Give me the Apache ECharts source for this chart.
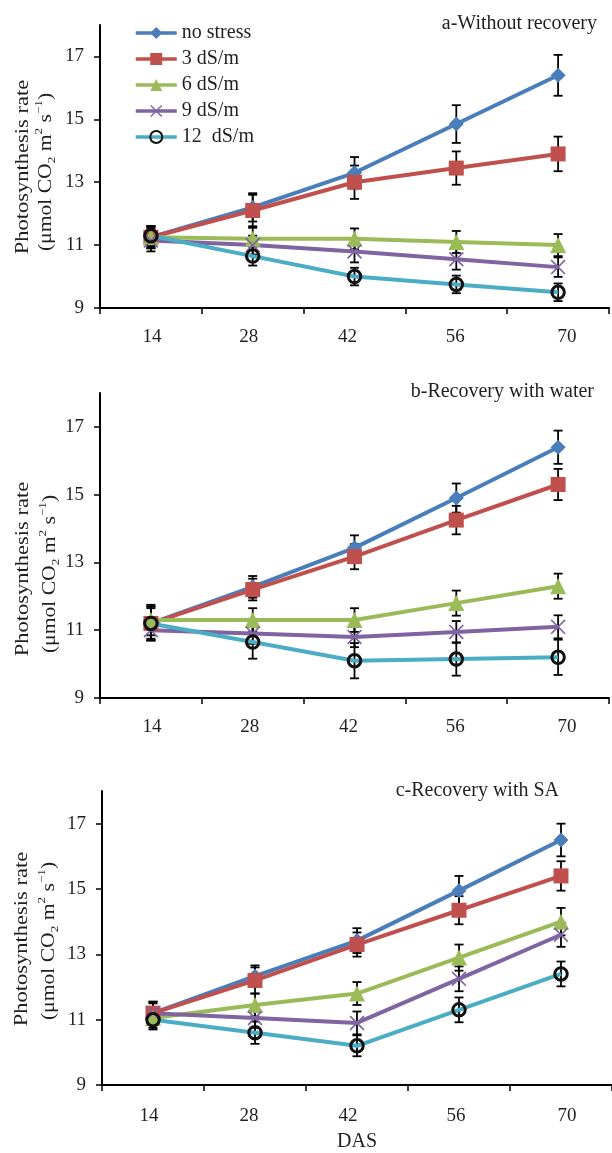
<!DOCTYPE html>
<html><head><meta charset="utf-8">
<script src="https://cdn.jsdelivr.net/npm/echarts@6/dist/echarts.min.js"></script>
<style>html,body{margin:0;padding:0;background:#fff}#c{width:612px;height:1153px}</style>
</head><body><div id="c"></div>
<script>
// ---------- data ----------
const days = ['14', '28', '42', '56', '70'];
const seriesNames = ['no stress', '3 dS/m', '6 dS/m', '9 dS/m', '12  dS/m'];
const panelTitles = ['a-Without recovery', 'b-Recovery with water', 'c-Recovery with SA'];
const yTickValues = [9, 11, 13, 15, 17];

// a - Without recovery
const a_noStress = [11.25, 12.2, 13.3, 14.85, 16.4];
const a_noStressErr = [0.35, 0.45, 0.5, 0.6, 0.65];
const a_3 = [11.25, 12.1, 13.0, 13.45, 13.9];
const a_3Err = [0.35, 0.5, 0.53, 0.53, 0.55];
const a_6 = [11.25, 11.2, 11.2, 11.1, 11.0];
const a_6Err = [0.3, 0.35, 0.33, 0.35, 0.35];
const a_9 = [11.15, 11.0, 10.8, 10.55, 10.3];
const a_9Err = [0.35, 0.3, 0.35, 0.33, 0.31];
const a_12 = [11.3, 10.65, 10.0, 9.75, 9.5];
const a_12Err = [0.3, 0.3, 0.28, 0.28, 0.28];

// b - Recovery with water
const b_noStress = [11.2, 12.28, 13.43, 14.9, 16.4];
const b_noStressErr = [0.5, 0.32, 0.37, 0.43, 0.49];
const b_3 = [11.2, 12.2, 13.17, 14.25, 15.3];
const b_3Err = [0.5, 0.32, 0.37, 0.42, 0.46];
const b_6 = [11.3, 11.3, 11.3, 11.8, 12.3];
const b_6Err = [0.45, 0.35, 0.35, 0.37, 0.37];
const b_9 = [11.0, 10.9, 10.8, 10.95, 11.1];
const b_9Err = [0.3, 0.3, 0.3, 0.32, 0.34];
const b_12 = [11.2, 10.65, 10.1, 10.15, 10.2];
const b_12Err = [0.45, 0.49, 0.52, 0.49, 0.52];

// c - Recovery with SA
const c_noStress = [11.2, 12.33, 13.42, 14.95, 16.5];
const c_noStressErr = [0.35, 0.33, 0.38, 0.45, 0.5];
const c_3 = [11.2, 12.2, 13.3, 14.35, 15.4];
const c_3Err = [0.35, 0.4, 0.37, 0.43, 0.45];
const c_6 = [11.05, 11.45, 11.8, 12.9, 14.0];
const c_6Err = [0.3, 0.35, 0.35, 0.4, 0.42];
const c_9 = [11.2, 11.05, 10.9, 12.25, 13.6];
const c_9Err = [0.3, 0.3, 0.35, 0.38, 0.37];
const c_12 = [11.0, 10.6, 10.2, 11.3, 12.4];
const c_12Err = [0.3, 0.34, 0.32, 0.38, 0.38];

const panelValues = [
  [a_noStress, a_3, a_6, a_9, a_12],
  [b_noStress, b_3, b_6, b_9, b_12],
  [c_noStress, c_3, c_6, c_9, c_12]
];
const panelErrors = [
  [a_noStressErr, a_3Err, a_6Err, a_9Err, a_12Err],
  [b_noStressErr, b_3Err, b_6Err, b_9Err, b_12Err],
  [c_noStressErr, c_3Err, c_6Err, c_9Err, c_12Err]
];

// ---------- style ----------
const FONT = '"Liberation Serif","DejaVu Serif",serif';
const TXT = '#231f20';
const grids = [
  { left: 100, top: 25, width: 509, height: 283 },
  { left: 100, top: 393, width: 509, height: 305 },
  { left: 102, top: 791, width: 510, height: 298 }
];
const titleRight = [15, 18, 53];
const titleTop = [14, 382, 781];
const labelShift = [[1, -4, -7, -1, 9], [1, -3, -6, -1, 9], [-4, -6, -9, -3, 6]];
const labelMargin = [20, 20, 22];
const nameLayout = [[23.5, 167, 46, 172], [23.5, 569, 50, 574], [22, 939, 49, 941]];

const colors = ['#4A7EBB', '#C0504D', '#9BBB59', '#8064A2', '#4BACC6'];
const xPath = 'path://M0,0.8L0.8,0L5,4.2L9.2,0L10,0.8L5.8,5L10,9.2L9.2,10L5,5.8L0.8,10L0,9.2L4.2,5Z';
const symbols = ['diamond', 'rect', 'triangle', xPath, 'circle'];
const symbolSizes = [15, 15, 16, 15, 12.5];

function errRender(params, api) {
  const lo = api.coord([api.value(0), api.value(1)]);
  const hi = api.coord([api.value(0), api.value(2)]);
  const w = 4.5;
  const st = { stroke: '#000', lineWidth: 1.8 };
  return {
    type: 'group',
    children: [
      { type: 'line', shape: { x1: lo[0], y1: lo[1], x2: hi[0], y2: hi[1] }, style: st },
      { type: 'line', shape: { x1: lo[0] - w, y1: lo[1], x2: lo[0] + w, y2: lo[1] }, style: st },
      { type: 'line', shape: { x1: hi[0] - w, y1: hi[1], x2: hi[0] + w, y2: hi[1] }, style: st }
    ]
  };
}

const xAxes = [], yAxes = [], series = [], titles = [], graphics = [];
grids.forEach((g, i) => {
  const rich = {};
  labelShift[i].forEach((dx, k) => {
    rich['r' + k] = {
      fontSize: 19, fontFamily: FONT, color: TXT,
      padding: dx >= 0 ? [0, 0, 0, 2 * dx] : [0, -2 * dx, 0, 0]
    };
  });
  xAxes.push({
    gridIndex: i, type: 'category', data: days, boundaryGap: true,
    axisLine: { lineStyle: { color: '#000', width: 2 } },
    axisTick: { show: true, length: 6, lineStyle: { color: '#000', width: 1.5 } },
    axisLabel: {
      margin: labelMargin[i], fontSize: 19, fontFamily: FONT, color: TXT,
      formatter: (v, idx) => '{r' + idx + '|' + v + '}', rich: rich
    },
    splitLine: { show: false },
    name: i === 2 ? 'DAS' : '',
    nameLocation: 'middle', nameGap: 47,
    nameTextStyle: { fontSize: 20, fontFamily: FONT, color: TXT }
  });
  yAxes.push({
    gridIndex: i, type: 'value', min: 9, max: 18,
    axisLine: { show: true, lineStyle: { color: '#000', width: 2 } },
    axisTick: { show: true, length: 6, customValues: yTickValues, lineStyle: { color: '#000', width: 1.5 } },
    axisLabel: { customValues: yTickValues, margin: 16, fontSize: 19, fontFamily: FONT, color: TXT },
    splitLine: { show: false }
  });
  titles.push({
    text: panelTitles[i], right: titleRight[i], top: titleTop[i], padding: 0,
    textStyle: { fontSize: 20, fontWeight: 'normal', fontFamily: FONT, color: TXT }
  });
  const nl = nameLayout[i];
  graphics.push({
    type: 'text', x: nl[0], y: nl[1], rotation: Math.PI / 2, scaleX: 1.25,
    style: {
      text: 'Photosynthesis rate', fontSize: 18, fontFamily: FONT, fill: TXT,
      align: 'center', verticalAlign: 'middle', textAlign: 'center', textVerticalAlign: 'middle'
    }
  });
  graphics.push({
    type: 'text', x: nl[2], y: nl[3], rotation: Math.PI / 2, scaleX: 1.2,
    style: {
      text: '(μmol CO{sub|2} m{sup|2} s{sup|−1})', fontSize: 18, fontFamily: FONT, fill: TXT,
      lineHeight: 24,
      align: 'center', verticalAlign: 'middle', textAlign: 'center', textVerticalAlign: 'middle',
      rich: {
        sub: { fontSize: 11, fontFamily: FONT, fill: TXT, verticalAlign: 'bottom', lineHeight: 12 },
        sup: { fontSize: 11, fontFamily: FONT, fill: TXT, verticalAlign: 'top', lineHeight: 12 }
      }
    }
  });

  panelValues[i].forEach((vals, j) => {
    const errs = panelErrors[i][j];
    series.push({
      type: 'custom', xAxisIndex: i, yAxisIndex: i, z: 2, silent: true,
      renderItem: errRender,
      encode: { x: 0, y: [1, 2] },
      data: vals.map((v, k) => [k, v - errs[k], v + errs[k]])
    });
  });
  panelValues[i].forEach((vals, j) => {
    const isCircle = j === 4;
    series.push({
      type: 'line', name: seriesNames[j], xAxisIndex: i, yAxisIndex: i, z: 3,
      data: vals,
      symbol: symbols[j], symbolSize: symbolSizes[j], showAllSymbol: true,
      lineStyle: { width: 4, color: colors[j] },
      itemStyle: isCircle
        ? { color: 'rgba(255,255,255,0)', borderColor: '#111', borderWidth: 3 }
        : { color: colors[j] },
      emphasis: { disabled: true }
    });
  });
});

const chart = echarts.init(document.getElementById('c'), null, { renderer: 'canvas' });
chart.setOption({
  animation: false,
  backgroundColor: '#fff',
  title: titles,
  legend: {
    left: 134, top: 23, orient: 'vertical', padding: 0,
    itemWidth: 41, itemHeight: 15, itemGap: 6, selectedMode: false,
    data: seriesNames,
    lineStyle: { width: 3.5 },
    textStyle: { fontSize: 20, fontFamily: FONT, color: TXT, lineHeight: 20 }
  },
  grid: grids,
  xAxis: xAxes,
  yAxis: yAxes,
  graphic: graphics,
  series: series
});
</script>
</body></html>
